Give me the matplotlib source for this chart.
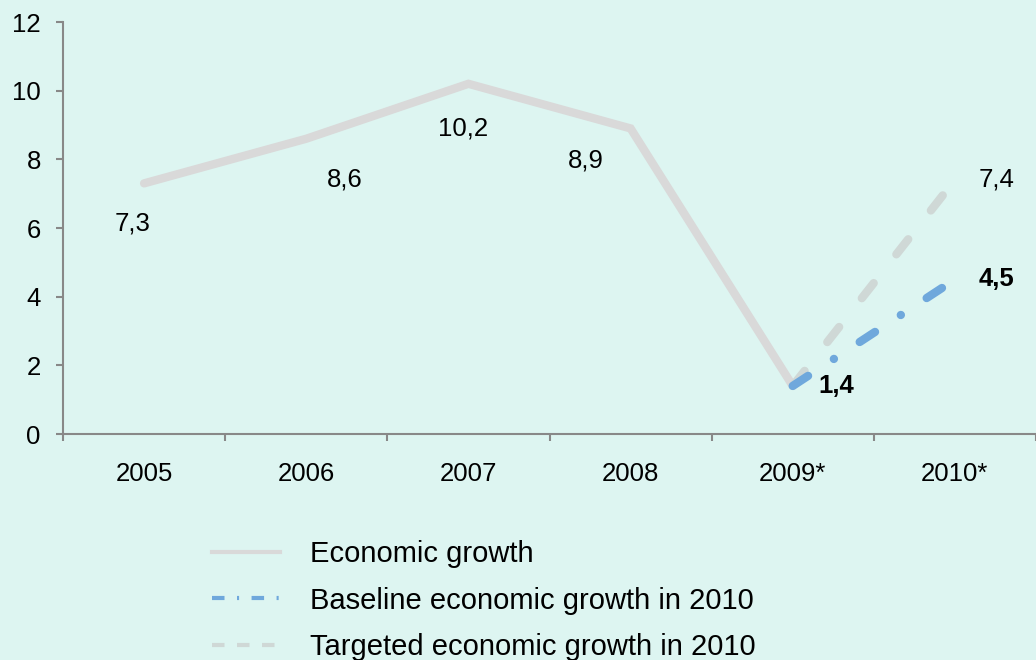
import numpy as np
import matplotlib
matplotlib.use('Agg')
import matplotlib.pyplot as plt
from matplotlib.lines import Line2D

plt.rcParams['font.family'] = ['Liberation Sans', 'DejaVu Sans']

# %% data
years = ['2005', '2006', '2007', '2008', '2009*', '2010*']
growth = [7.3, 8.6, 10.2, 8.9, 1.4]
baseline = [1.4, 4.5]
targeted = [1.4, 7.4]

bg = '#ddf5f1'
grey_line = '#d9d9d9'
grey_dash = '#cfd8d6'
blue_line = '#6fa8dc'
axis_col = '#888888'

# label offsets (points), as in the original chart
growth_offsets = [(-8, -29), (28, -29), (-4, -32), (-32, -23), (31, 0)]

# %% plot
fig = plt.figure(figsize=(10.36, 6.6), dpi=100, facecolor=bg)
ax = fig.add_axes([63 / 1036, 1 - 434 / 660, 1 - 63 / 1036, (434 - 22) / 660])
ax.set_facecolor(bg)

x = np.arange(len(years))
ax.plot(x[:5], growth, color=grey_line, lw=6, solid_capstyle='round',
        solid_joinstyle='miter')
ax.plot(x[4:], targeted, color=grey_dash, lw=6, dashes=(2.3, 4.4),
        dash_capstyle='round')
ax.plot(x[4:], baseline, color=blue_line, lw=6, dashes=(2.2, 3.7, 0.01, 3.7),
        dash_capstyle='round')

# data labels
for i, v in enumerate(growth):
    bold = 'bold' if i == 4 else 'normal'
    ax.annotate(f'{v}'.replace('.', ','), (x[i], v), xytext=growth_offsets[i],
                textcoords='offset points', ha='center', va='center', fontsize=18.5,
                fontweight=bold)
ax.annotate(f'{targeted[1]}'.replace('.', ','), (x[5], targeted[1]), xytext=(30, 0),
            textcoords='offset points', ha='center', va='center', fontsize=18.5)
ax.annotate(f'{baseline[1]}'.replace('.', ','), (x[5], baseline[1]), xytext=(30, 0),
            textcoords='offset points', ha='center', va='center', fontsize=18.5,
            fontweight='bold')

ax.set_xlim(-0.5, 5.44)
ax.set_ylim(0, 12)
ax.set_yticks(np.arange(0, 13, 2))
ax.set_xticks(x)
ax.set_xticklabels(years)
ax.set_xticks(np.arange(-0.5, 6, 1), minor=True)
ax.tick_params(axis='x', which='major', length=0, pad=20, labelsize=18.5)
ax.tick_params(axis='x', which='minor', length=5, color=axis_col, width=1.5)
ax.tick_params(axis='y', length=5, color=axis_col, width=1.5, labelsize=18.5, pad=11)

for s in ['top', 'right']:
    ax.spines[s].set_visible(False)
for s in ['left', 'bottom']:
    ax.spines[s].set_color(axis_col)
    ax.spines[s].set_linewidth(1.5)

# legend
h1 = Line2D([], [], color=grey_line, lw=3)
h2 = Line2D([], [], color=blue_line, lw=3, dashes=(3, 3, 0.5, 3))
h3 = Line2D([], [], color=grey_dash, lw=3, dashes=(3, 3))
fig.legend(handles=[h1, h2, h3],
           labels=['Economic growth', 'Baseline economic growth in 2010',
                   'Targeted economic growth in 2010'],
           loc='upper left', bbox_to_anchor=(212 / 1036, 1 - 540 / 660),
           frameon=False, fontsize=21, handlelength=2.33, handletextpad=1.03,
           labelspacing=0.64, borderpad=0, borderaxespad=0)

fig.savefig('out.png', dpi=100, facecolor=bg)
